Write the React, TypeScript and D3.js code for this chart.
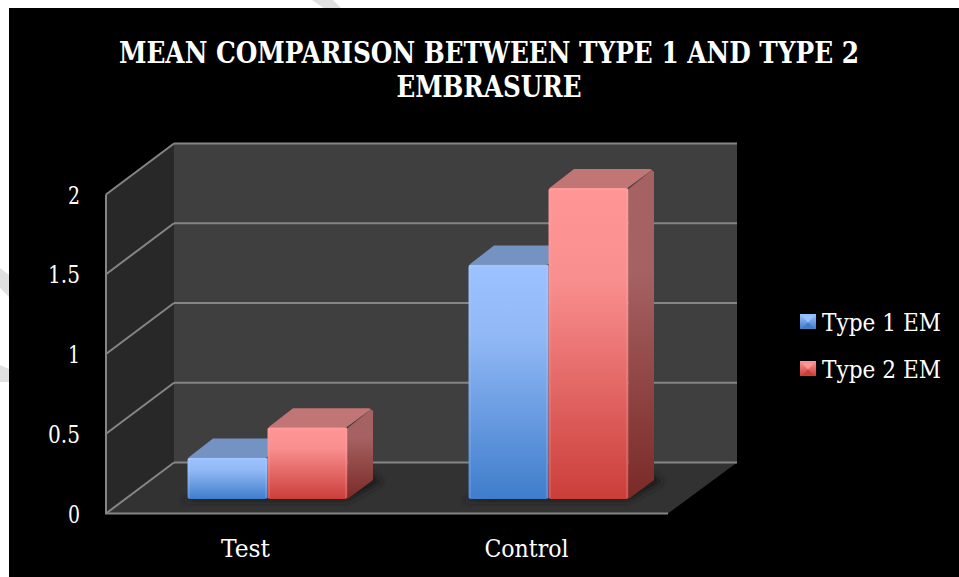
import React from "react";
import * as d3 from "d3";

const categories = ["Test", "Control"];
const seriesNames = ["Type 1 EM", "Type 2 EM"];
const type1Values = [0.26, 1.47];
const type2Values = [0.45, 1.95];
const tickValues = [0, 0.5, 1, 1.5, 2];
const tickLabels = ["0", "0.5", "1", "1.5", "2"];
const titleLines = ["MEAN COMPARISON BETWEEN TYPE 1 AND TYPE 2", "EMBRASURE"];

const W = 959, H = 577;
const FONT = "'DejaVu Serif', serif";
const depthX = 68, depthY = 51;
const barDepthX = 25.5, barDepthY = 19;
const floorLeft = 106, floorRight = 668;
const barBase = 499;

const yAxis = d3.scaleLinear().domain([0, 2]).range([513.5, 194.5]);
const yBar = d3.scaleLinear().domain([0, 2]).range([barBase, barBase - 319]);
const xCat = d3.scaleBand<string>().domain(categories).range([127, 689]);
const xSeries = d3.scaleBand<string>().domain(seriesNames).range([-80, 80]);

const pal = [
  { light: "#9cc3ff", mid: "#92b9f6", dark: "#3f7dcb", top: "#7493c2", sideT: "#5d7ba8", sideB: "#2b568c", edge: "#b5d2ff" },
  { light: "#ff9696", mid: "#f98e8e", dark: "#cb3e3a", top: "#c27575", sideT: "#a66262", sideB: "#7a2a27", edge: "#ffb0b0" },
];
const values = [type1Values, type2Values];

const poly = (pts: number[][]) => pts.map((p) => p.join(",")).join(" ");
const textStyle: React.CSSProperties = { fontStretch: "condensed" };

export default function App() {
  const lineColor = "#858585";
  const bars = seriesNames.flatMap((s, si) =>
    categories.map((c, ci) => ({ s, si, c, v: values[si][ci] }))
  );
  return (
    <svg width={W} height={H} viewBox={`0 0 ${W} ${H}`} style={{ position: "absolute", left: 0, top: 0, display: "block" }}>
      <defs>
        {pal.map((p, i) => (
          <React.Fragment key={i}>
            <linearGradient id={`front${i}`} x1="0" y1="0" x2="0" y2="1">
              <stop offset="0" stopColor={p.light} />
              <stop offset="0.3" stopColor={p.mid} />
              <stop offset="1" stopColor={p.dark} />
            </linearGradient>
            <linearGradient id={`side${i}`} x1="0" y1="0" x2="0" y2="1">
              <stop offset="0" stopColor={p.sideT} />
              <stop offset="0.3" stopColor={p.sideT} />
              <stop offset="1" stopColor={p.sideB} />
            </linearGradient>
            <linearGradient id={`mk${i}`} x1="0" y1="0" x2="0" y2="1">
              <stop offset="0" stopColor={p.light} />
              <stop offset="1" stopColor={p.dark} />
            </linearGradient>
          </React.Fragment>
        ))}
        <filter id="blur" x="-30%" y="-100%" width="160%" height="300%">
          <feGaussianBlur stdDeviation="3" />
        </filter>
        <filter id="soft" x="-5%" y="-5%" width="110%" height="110%">
          <feGaussianBlur stdDeviation="0.6" />
        </filter>
      </defs>

      <rect width={W} height={H} fill="#ffffff" />
      <polygon points={poly([[312, 0], [333, 0], [342, 9], [325, 9]])} fill="#e0e0e0" />
      <polygon points={poly([[0, 268], [9, 275], [9, 297], [0, 288]])} fill="#e0e0e0" />
      <polygon points={poly([[0, 365], [9, 369], [9, 382], [0, 382]])} fill="#e0e0e0" />
      <rect x={9} y={8} width={W - 9} height={H - 8} fill="#000000" />

      {titleLines.map((t, i) => (
        <text key={t} x={489} y={63 + i * 34} textAnchor="middle" fill="#ffffff" fontFamily={FONT} style={textStyle}
          fontWeight="bold" fontSize={29} textLength={i === 0 ? 740 : 185} lengthAdjust="spacingAndGlyphs">{t}</text>
      ))}

      {/* walls and floor */}
      <rect x={floorLeft + depthX} y={yAxis(2) - depthY} width={floorRight - floorLeft + 1} height={yAxis(0) - yAxis(2)} fill="#3f3f3f" />
      <polygon fill="#282828" points={poly([
        [floorLeft, yAxis(0)], [floorLeft, yAxis(2)],
        [floorLeft + depthX, yAxis(2) - depthY], [floorLeft + depthX, yAxis(0) - depthY],
      ])} />
      <polygon fill="#323232" points={poly([
        [floorLeft, yAxis(0)], [floorRight, yAxis(0)],
        [floorRight + depthX + 1, yAxis(0) - depthY], [floorLeft + depthX, yAxis(0) - depthY],
      ])} />

      {/* grid */}
      {tickValues.map((v) => (
        <g key={v} stroke={lineColor} strokeWidth={2} fill="none">
          <line x1={floorLeft} y1={yAxis(v)} x2={floorLeft + depthX} y2={yAxis(v) - depthY} />
          <line x1={floorLeft + depthX} y1={yAxis(v) - depthY} x2={floorRight + depthX + 1} y2={yAxis(v) - depthY} />
        </g>
      ))}
      <line x1={floorLeft} y1={yAxis(2)} x2={floorLeft} y2={yAxis(0)} stroke={lineColor} strokeWidth={2} />
      <line x1={floorLeft - 1} y1={yAxis(0)} x2={floorRight} y2={yAxis(0)} stroke={lineColor} strokeWidth={2} />

      {/* shadows */}
      {categories.map((c) => {
        const cx = (xCat(c) as number) + xCat.bandwidth() / 2;
        return (
          <polygon key={c} filter="url(#blur)" fill="#1c1c1c" points={poly([
            [cx - 88, barBase + 2], [cx + 80, barBase + 2],
            [cx + 80 + barDepthX + 9, barBase - barDepthY + 2], [cx + 80 + barDepthX, barBase - barDepthY - 6], [cx - 60, barBase - 6],
          ])} />
        );
      })}

      {/* bars */}
      {bars.map(({ s, si, c, v }) => {
        const cx = (xCat(c) as number) + xCat.bandwidth() / 2;
        const x0 = cx + (xSeries(s) as number);
        const x1 = x0 + xSeries.bandwidth();
        const yT = yBar(v);
        const p = pal[si];
        return (
          <g key={s + c}>
            <polygon fill={p.top} points={poly([
              [x0 + 1, yT], [x1 - 1, yT], [x1 + barDepthX - 2, yT - barDepthY + 1],
              [x1 + barDepthX - 4, yT - barDepthY], [x0 + barDepthX, yT - barDepthY],
            ])} />
            <polygon fill={`url(#side${si})`} points={poly([
              [x1, yT + 1], [x1 + barDepthX - 2, yT - barDepthY + 1], [x1 + barDepthX, yT - barDepthY + 3],
              [x1 + barDepthX, barBase - barDepthY], [x1, barBase],
            ])} />
            <rect x={x0} y={yT} width={x1 - x0} height={barBase - yT} rx={2.5} fill={`url(#front${si})`} />
            <path d={`M${x0 + 1.5},${barBase - 1}V${yT + 1.5}H${x1 - 1.5}V${barBase - 1}`} fill="none" stroke={p.edge} strokeOpacity={0.25} strokeWidth={1.5} filter="url(#soft)" />
          </g>
        );
      })}

      {/* axis labels */}
      {tickValues.map((v, i) => (
        <text key={v} x={80} y={yAxis(v) + 9} textAnchor="end" fill="#ffffff" fontFamily={FONT} fontSize={24} style={textStyle}
          textLength={tickLabels[i].length > 1 ? 32 : 12} lengthAdjust="spacingAndGlyphs">{tickLabels[i]}</text>
      ))}
      {categories.map((c, i) => (
        <text key={c} x={(xCat(c) as number) + xCat.bandwidth() / 2 - 22} y={557} textAnchor="middle" fill="#ffffff"
          fontFamily={FONT} fontSize={24} style={textStyle} textLength={i === 0 ? 49 : 84} lengthAdjust="spacingAndGlyphs">{c}</text>
      ))}

      {/* legend */}
      {seriesNames.map((s, i) => {
        const lx = 800, ly = 314 + i * 47, sz = 16, h = 15, cxm = lx + sz / 2, cym = ly + h / 2;
        const p = pal[i];
        return (
          <g key={s}>
            <rect x={lx} y={ly} width={sz} height={h} fill={`url(#mk${i})`} />
            <polygon fill={p.light} points={poly([[lx + 2, ly + 2], [lx + sz - 2, ly + 2], [cxm, cym + 1]])} />
            <polygon fill={p.dark} points={poly([[lx + 2, ly + h - 1], [lx + sz - 2, ly + h - 1], [cxm, cym + 1]])} />
            <text x={822} y={ly + 17} fill="#ffffff" fontFamily={FONT} fontSize={24} style={textStyle} textLength={119} lengthAdjust="spacingAndGlyphs">{s}</text>
          </g>
        );
      })}
    </svg>
  );
}
